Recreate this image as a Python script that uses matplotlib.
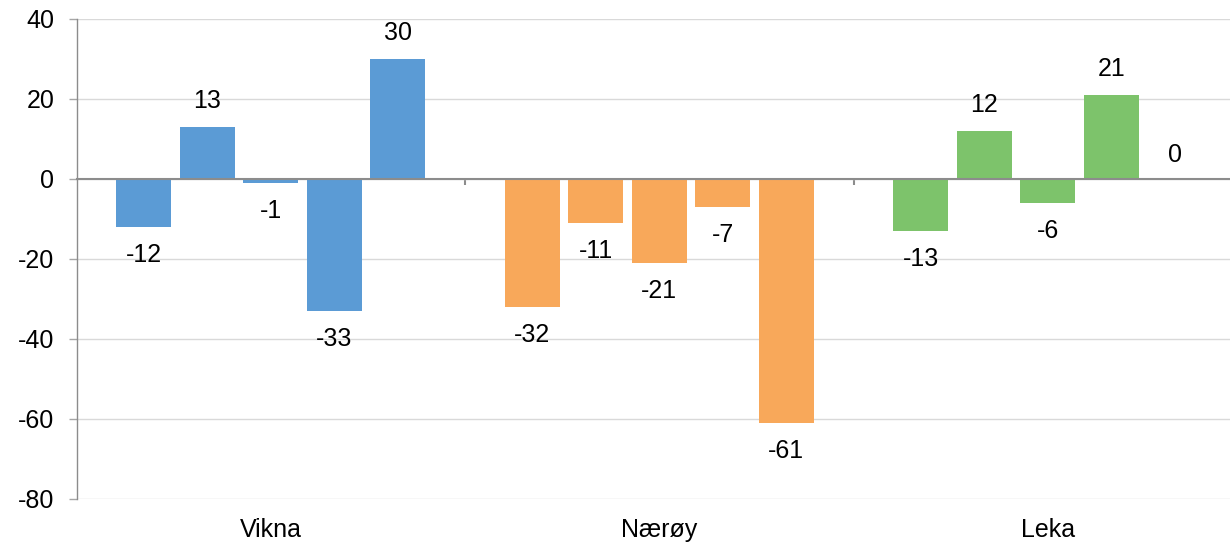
import matplotlib.pyplot as plt
import numpy as np

plt.rcParams['font.family'] = ['Liberation Sans', 'DejaVu Sans']
plt.rcParams['axes.unicode_minus'] = False

kommuner = ["Vikna", "Nærøy", "Leka"]
vikna = [-12, 13, -1, -33, 30]
naeroy = [-32, -11, -21, -7, -61]
leka = [-13, 12, -6, 21, 0]
farger = ["#5B9BD5", "#F8A85A", "#7DC36B"]

fig = plt.figure(figsize=(12.3, 5.45), dpi=100)
ax = fig.add_axes([76.5 / 1230, 46 / 545, 1165.5 / 1230, 480 / 545])

pitch = 0.1634
width = 0.1416
fs = 18

for i, (serie, farge) in enumerate(zip([vikna, naeroy, leka], farger)):
    xs = i + 0.5 + (np.arange(len(serie)) - 2) * pitch
    ax.bar(xs, serie, width=width, color=farge, zorder=2)
    for x, v in zip(xs, serie):
        if v > 0:
            dy = 26
        elif v < 0:
            dy = -28
        else:
            dy = 24
        ax.annotate(str(v), (x, v), xytext=(0, dy), textcoords="offset pixels",
                    ha="center", va="center", fontsize=fs)

ax.set_xlim(0, 3)
ax.set_ylim(-80, 40)
ax.set_yticks(np.arange(-80, 41, 20))
ax.tick_params(axis="y", labelsize=fs, length=6, width=1, color="#A6A6A6", pad=10)
ax.yaxis.grid(True, color="#D9D9D9", lw=1.0, zorder=0)
ax.set_axisbelow(True)

for s in ["top", "right"]:
    ax.spines[s].set_visible(False)
ax.spines["left"].set_color("#8C8C8C")
ax.spines["left"].set_linewidth(1.0)
ax.spines["bottom"].set_position(("data", 0))
ax.spines["bottom"].set_color("#8C8C8C")
ax.spines["bottom"].set_linewidth(1.5)
ax.spines["bottom"].set_zorder(3)

ax.set_xticks([1, 2])
ax.set_xticklabels([])
ax.tick_params(axis="x", length=4, width=1.5, color="#8C8C8C", direction="out")

for i, navn in enumerate(kommuner):
    ax.annotate(navn, (i + 0.5, -80), xytext=(0, -31), textcoords="offset pixels",
                ha="center", va="center", fontsize=fs)

fig.savefig("out.png", dpi=100)
